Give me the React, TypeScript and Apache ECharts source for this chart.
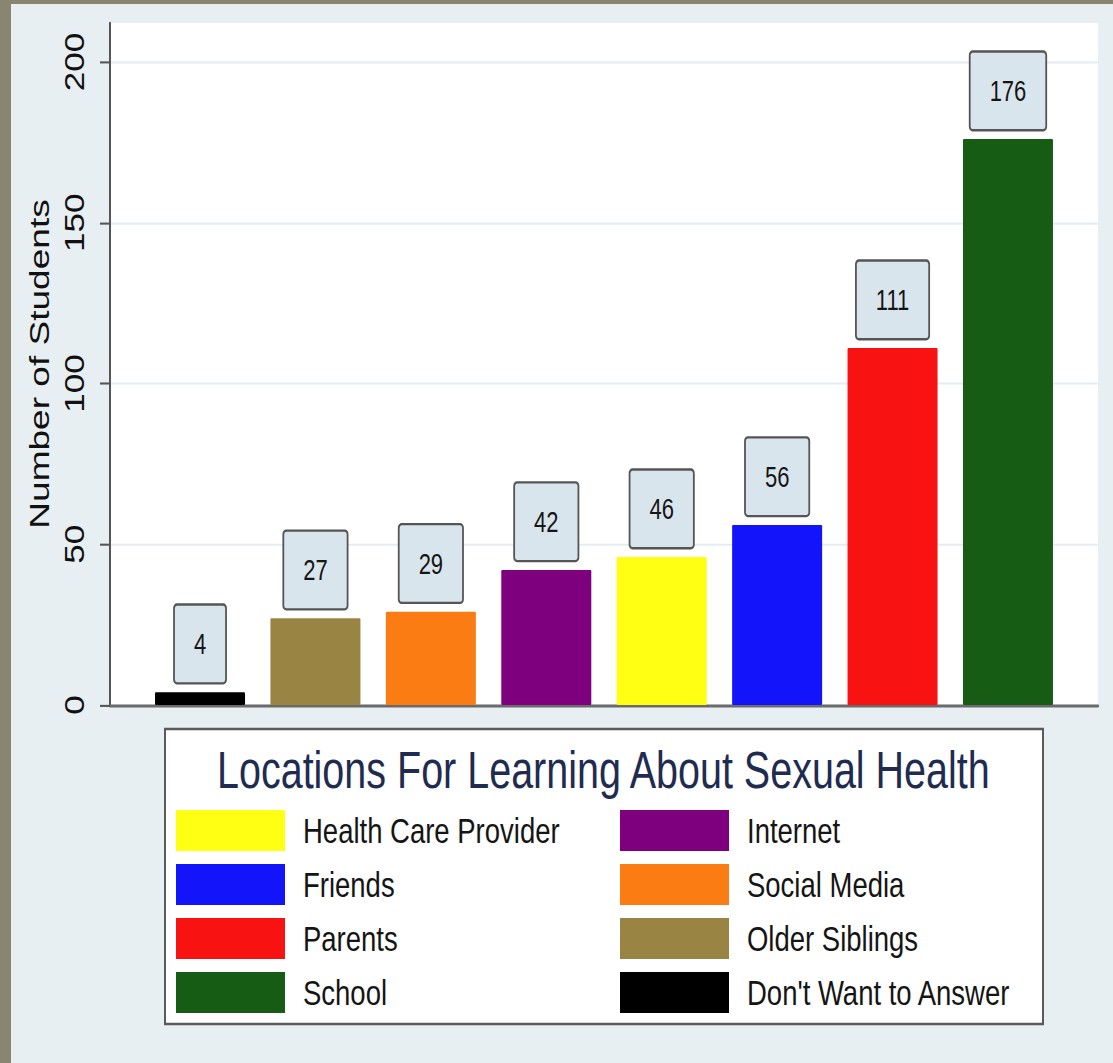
import React, { useEffect, useRef } from "react";
import * as echarts from "echarts";

const categories = [
  "Don't Want to Answer",
  "Older Siblings",
  "Social Media",
  "Internet",
  "Health Care Provider",
  "Friends",
  "Parents",
  "School",
];
const values = [4, 27, 29, 42, 46, 56, 111, 176];
const colors = [
  "#000000",
  "#9a8444",
  "#fb7c13",
  "#7e007e",
  "#ffff14",
  "#1414fb",
  "#f91212",
  "#175c14",
];
const legendColumn1 = ["Health Care Provider", "Friends", "Parents", "School"];
const legendColumn2 = ["Internet", "Social Media", "Older Siblings", "Don't Want to Answer"];
const yTicks = [0, 50, 100, 150, 200];
const legendTitle = "Locations For Learning About Sexual Health";
const yAxisTitle = "Number of Students";

const FONT = '"Liberation Sans", Arial, Helvetica, sans-serif';
// The reference picture is vertically stretched; we render at a reduced height and stretch by S.
const S = 1.3;
const W = 1113;
const H = 1063 / S;
const v = (y: number) => y / S; // convert screen-space vertical px to internal px

export default function App() {
  const ref = useRef<HTMLDivElement>(null);
  useEffect(() => {
    if (!ref.current) return;
    const chart = echarts.init(ref.current, null, { renderer: "svg" });
    const series = categories.map((name, i) => ({
      name,
      type: "bar",
      stack: "all",
      barWidth: 90,
      data: [[i + 1, values[i]]],
      itemStyle: { color: colors[i], borderRadius: 1 },
      label: {
        show: true,
        position: "top",
        distance: v(10),
        formatter: "{@[1]}",
        fontFamily: FONT,
        fontSize: 22,
        lineHeight: 22,
        color: "#151515",
        backgroundColor: "#d9e5ec",
        borderColor: "#555555",
        borderWidth: 1.8,
        borderRadius: 2,
        padding: [18.4, 19],
      },
      emphasis: { disabled: true },
    }));
    const legendCommon = {
      top: v(810),
      orient: "vertical",
      padding: 0,
      itemWidth: 109,
      itemHeight: v(41),
      itemGap: v(13),
      icon: "rect",
      selectedMode: false,
      textStyle: {
        fontFamily: FONT,
        fontSize: 27.5,
        color: "#151515",
        padding: [0, 0, 0, 13],
      },
    };
    chart.setOption({
      animation: false,
      backgroundColor: "#e8eff2",
      title: {
        text: legendTitle,
        left: 217,
        top: v(745),
        padding: 0,
        textStyle: {
          fontFamily: FONT,
          fontSize: 39.5,
          lineHeight: 40,
          fontWeight: "normal",
          color: "#1f2c50",
        },
      },
      graphic: [
        { type: "rect", z: -10, shape: { x: 0, y: 0, width: 11, height: H }, style: { fill: "#8a8570" } },
        { type: "rect", z: -10, shape: { x: 0, y: 0, width: W, height: v(4) }, style: { fill: "#8a8570" } },
        {
          type: "rect",
          z: -5,
          shape: { x: 165, y: v(729), width: 878, height: v(1024) - v(729) },
          style: { fill: "#ffffff", stroke: "#5a5a5a", lineWidth: 2 },
        },
      ],
      legend: [
        { ...legendCommon, data: legendColumn1, left: 176 },
        { ...legendCommon, data: legendColumn2, left: 620 },
      ],
      grid: {
        left: 110,
        top: v(23),
        width: 988,
        height: v(705) - v(23),
        show: true,
        backgroundColor: "#ffffff",
        borderWidth: 0,
      },
      xAxis: {
        type: "value",
        min: 0.22,
        max: 8.78,
        axisLabel: { show: false },
        axisTick: { show: false },
        splitLine: { show: false },
        axisLine: { show: true, onZero: false, lineStyle: { color: "#6a6a6a", width: 2.3 } },
      },
      yAxis: {
        type: "value",
        min: 0,
        max: 212.1,
        name: yAxisTitle,
        nameLocation: "middle",
        nameGap: 51,
        nameTextStyle: { fontFamily: FONT, fontSize: 28.5, color: "#111" },
        axisLine: { show: true, lineStyle: { color: "#555", width: 2 } },
        axisTick: { show: true, length: 10, customValues: yTicks, lineStyle: { color: "#555", width: 1.6 } },
        axisLabel: {
          customValues: yTicks,
          rotate: 90,
          margin: 22,
          fontFamily: FONT,
          fontSize: 27,
          color: "#111",
        },
        splitLine: { show: true, lineStyle: { color: "#e4edf1", width: 1.6 } },
      },
      series,
    });
    return () => chart.dispose();
  }, []);
  return (
    <div
      ref={ref}
      style={{
        position: "absolute",
        left: 0,
        top: 0,
        width: W,
        height: H,
        transform: `scaleY(${S})`,
        transformOrigin: "0 0",
      }}
    />
  );
}
